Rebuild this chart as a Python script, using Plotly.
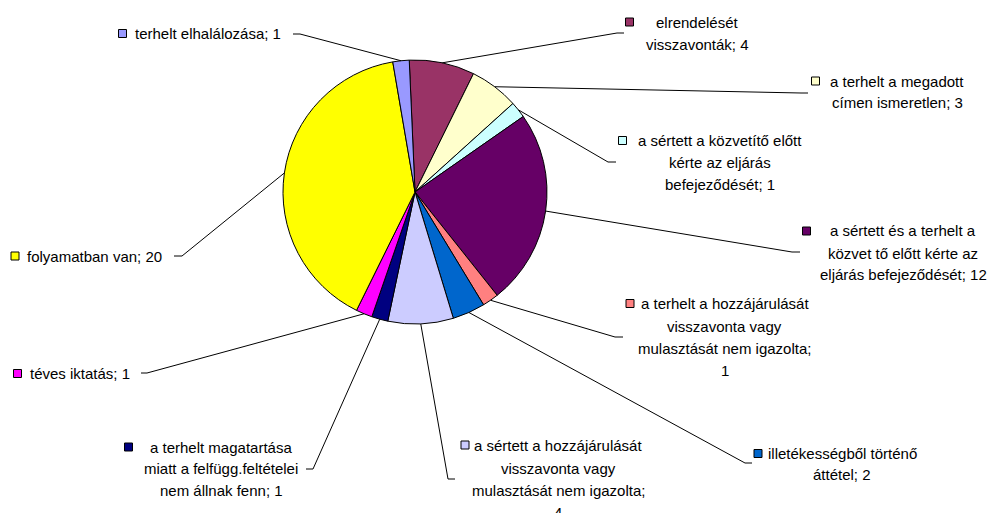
import math
import plotly.graph_objects as go

# ---- data (pie order, clockwise from top) ----
categories = [
    "elrendelését\nvisszavonták",
    "a terhelt a megadott\ncímen ismeretlen",
    "a sértett a közvetítő előtt\nkérte az eljárás\nbefejeződését",
    "a sértett és a terhelt a\nközvet tő előtt kérte az\neljárás befejeződését",
    "a terhelt a hozzájárulását\nvisszavonta vagy\nmulasztását nem igazolta",
    "illetékességből történő\náttétel",
    "a sértett a hozzájárulását\nvisszavonta vagy\nmulasztását nem igazolta",
    "a terhelt magatartása\nmiatt a felfügg.feltételei\nnem állnak fenn",
    "téves iktatás",
    "folyamatban van",
    "terhelt elhalálozása",
]
values = [4, 3, 1, 12, 1, 2, 4, 1, 1, 20, 1]
value_separators = ["; ", "; ", "; ", "; ", ";\n", "; ", ";\n", "; ", "; ", "; ", "; "]

# ---- styles / layout ----
colors = ["#993366", "#FFFFCC", "#CCFFFF", "#660066", "#FF8080", "#0066CC",
          "#CCCCFF", "#000080", "#FF00FF", "#FFFF00", "#9999FF"]

W, H = 999, 513
CX, CY, R = 415.0, 192.0, 132.0
ROTATION = -2.5
FONT = "Arial, Liberation Sans, sans-serif"
FSIZE = 15

# label placement (pixels): (anchor_x, xanchor, line y list, key square (x,y center), leader elbow, leader end)
label_layout = [
    dict(x=697, xa="center", ys=[22, 44], key=(629.5, 22), elbow=(617, 33), end=(624, 33)),
    dict(x=897, xa="center", ys=[81, 103], key=(815.5, 81), elbow=(801, 93), end=(808, 93)),
    dict(x=720, xa="center", ys=[140.5, 162.5, 184], key=(622.5, 140.5), elbow=(608, 162), end=(616, 162)),
    dict(x=903, xa="center", ys=[231, 253, 274.5], key=(806.5, 231), elbow=(792, 252), end=(800, 252)),
    dict(x=724.5, xa="center", ys=[303.5, 326, 348, 370], key=(630, 303.5), elbow=(615, 337), end=(623, 337)),
    dict(x=842, xa="center", ys=[453.5, 474.5], key=(758, 453.5), elbow=(745, 463), end=(752, 463)),
    dict(x=558, xa="center", ys=[445, 468, 490, 512], key=(465, 445), elbow=(448, 479), end=(455, 479)),
    dict(x=221, xa="center", ys=[447, 468.5, 490], key=(128.5, 447), elbow=(313, 469), end=(306, 469)),
    dict(x=28, xa="left", ys=[373.5], key=(17.5, 373.5), elbow=(147, 373), end=(141, 373)),
    dict(x=25, xa="left", ys=[256], key=(15, 256), elbow=(182, 256), end=(174, 256)),
    dict(x=133, xa="left", ys=[33.5], key=(122.5, 33.5), elbow=(300, 34), end=(293, 34)),
]


def px(x):
    return x / W


def py(y):
    return 1 - y / H


fig = go.Figure()
fig.add_trace(go.Pie(
    values=values,
    labels=[c.replace("\n", " ") for c in categories],
    marker=dict(colors=colors, line=dict(color="#000000", width=1)),
    sort=False,
    direction="clockwise",
    rotation=ROTATION,
    textinfo="none",
    hoverinfo="label+value",
    showlegend=False,
    domain=dict(x=[px(CX - R), px(CX + R)], y=[py(CY + R), py(CY - R)]),
))

total = sum(values)
shapes = []
annotations = []
cum = 0
for cat, val, sep, col, lay in zip(categories, values, value_separators, colors, label_layout):
    mid = math.radians(ROTATION + 360.0 * (cum + val / 2.0) / total)
    cum += val
    ex, ey = CX + R * math.sin(mid), CY - R * math.cos(mid)
    bx, by = lay["elbow"]
    tx, ty = lay["end"]
    shapes.append(dict(
        type="path", xref="paper", yref="paper",
        path=f"M {px(ex)} {py(ey)} L {px(bx)} {py(by)} L {px(tx)} {py(ty)}",
        line=dict(color="#000000", width=1),
    ))
    kx, ky = lay["key"]
    shapes.append(dict(
        type="rect", xref="paper", yref="paper",
        x0=px(kx - 4), x1=px(kx + 4), y0=py(ky + 4), y1=py(ky - 4),
        fillcolor=col, line=dict(color="#000000", width=1),
    ))
    lines = (cat + sep + str(val)).split("\n")
    for line, ly in zip(lines, lay["ys"]):
        annotations.append(dict(
            x=px(lay["x"]), y=py(ly), xref="paper", yref="paper",
            text=line, showarrow=False, xanchor=lay["xa"], yanchor="middle",
            font=dict(family=FONT, size=FSIZE, color="#000000"),
        ))

fig.update_layout(
    width=W, height=H,
    margin=dict(l=0, r=0, t=0, b=0),
    paper_bgcolor="#FFFFFF",
    plot_bgcolor="#FFFFFF",
    shapes=shapes,
    annotations=annotations,
    showlegend=False,
)

fig.write_html("out.html")
